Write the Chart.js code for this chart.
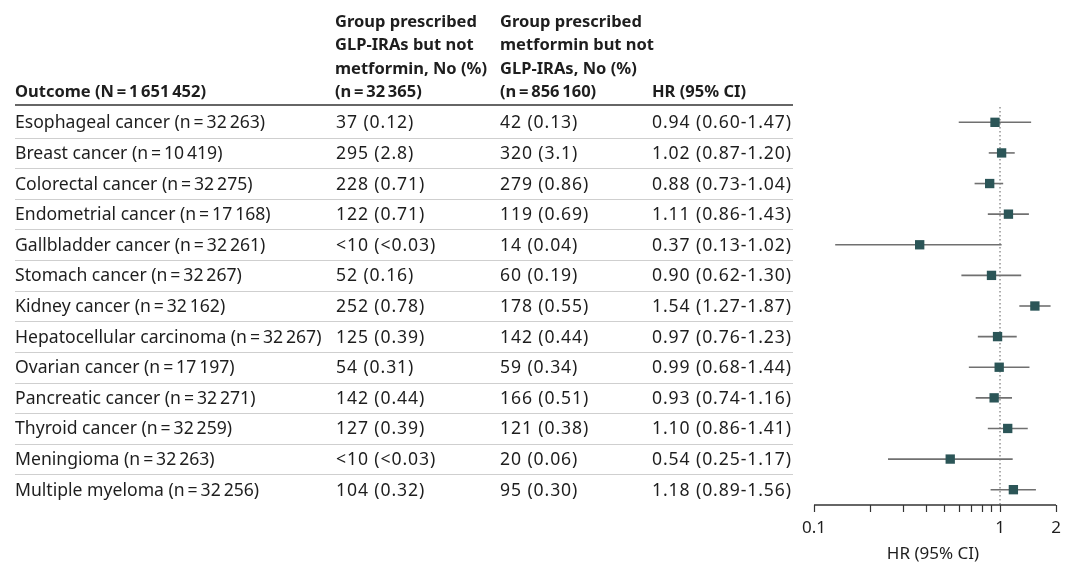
<!DOCTYPE html>
<html><head><meta charset="utf-8">
<script src="https://cdn.jsdelivr.net/npm/chart.js@4"></script>
<style>html,body{margin:0;padding:0;background:#fff}canvas{display:block}</style>
</head><body>
<canvas id="c" width="1080" height="575"></canvas>
<script>
const T = '\u2009';
const outcomes = [
  'Esophageal cancer (n'+T+'='+T+'32'+T+'263)',
  'Breast cancer (n'+T+'='+T+'10'+T+'419)',
  'Colorectal cancer (n'+T+'='+T+'32'+T+'275)',
  'Endometrial cancer (n'+T+'='+T+'17'+T+'168)',
  'Gallbladder cancer (n'+T+'='+T+'32'+T+'261)',
  'Stomach cancer (n'+T+'='+T+'32'+T+'267)',
  'Kidney cancer (n'+T+'='+T+'32'+T+'162)',
  'Hepatocellular carcinoma (n'+T+'='+T+'32'+T+'267)',
  'Ovarian cancer (n'+T+'='+T+'17'+T+'197)',
  'Pancreatic cancer (n'+T+'='+T+'32'+T+'271)',
  'Thyroid cancer (n'+T+'='+T+'32'+T+'259)',
  'Meningioma (n'+T+'='+T+'32'+T+'263)',
  'Multiple myeloma (n'+T+'='+T+'32'+T+'256)'
];
const glpCol = ['37 (0.12)','295 (2.8)','228 (0.71)','122 (0.71)','<10 (<0.03)','52 (0.16)','252 (0.78)','125 (0.39)','54 (0.31)','142 (0.44)','127 (0.39)','<10 (<0.03)','104 (0.32)'];
const metCol = ['42 (0.13)','320 (3.1)','279 (0.86)','119 (0.69)','14 (0.04)','60 (0.19)','178 (0.55)','142 (0.44)','59 (0.34)','166 (0.51)','121 (0.38)','20 (0.06)','95 (0.30)'];
const hr = [0.94,1.02,0.88,1.11,0.37,0.90,1.54,0.97,0.99,0.93,1.10,0.54,1.18];
const lo = [0.60,0.87,0.73,0.86,0.13,0.62,1.27,0.76,0.68,0.74,0.86,0.25,0.89];
const hi = [1.47,1.20,1.04,1.43,1.02,1.30,1.87,1.23,1.44,1.16,1.41,1.17,1.56];
const headOutcome = ['Outcome (N'+T+'='+T+'1'+T+'651'+T+'452)'];
const headGlp = ['Group prescribed','GLP-IRAs but not','metformin, No (%)','(n'+T+'='+T+'32'+T+'365)'];
const headMet = ['Group prescribed','metformin but not','GLP-IRAs, No (%)','(n'+T+'='+T+'856'+T+'160)'];
const headHr = ['HR (95% CI)'];
const xTickLabels = ['0.1','1','2'];
const xTickValues = [0.1,1,2];
const xMinorTicks = [0.2,0.3,0.4,0.5,0.6,0.7,0.8,0.9];
const axisTitle = 'HR (95% CI)';

const FONT = '"Noto Sans", sans-serif';
const TXT = '#1e1e1e';

const tablePlugin = {
  id: 'forest',
  beforeDatasetsDraw(chart) {
    const ctx = chart.ctx, xs = chart.scales.x, ys = chart.scales.y;
    const ca = chart.chartArea;
    ctx.save();
    // row separators
    ctx.strokeStyle = '#cfcfcf';
    ctx.lineWidth = 1;
    for (let i = 0; i < outcomes.length - 1; i++) {
      const y = Math.round(ys.getPixelForValue(i + 0.5)) + 0.5;
      ctx.beginPath(); ctx.moveTo(15, y); ctx.lineTo(793, y); ctx.stroke();
    }
    // header
    ctx.fillStyle = TXT;
    ctx.textBaseline = 'middle';
    ctx.font = 'bold 16.5px ' + FONT;
    const hy = [22,45,69,92];
    ctx.fillText(headOutcome[0], 15, 92);
    headGlp.forEach((t,i)=>ctx.fillText(t, 335, hy[i]));
    headMet.forEach((t,i)=>ctx.fillText(t, 500, hy[i]));
    ctx.fillText(headHr[0], 652, 92);
    // rule
    ctx.strokeStyle = '#333';
    ctx.lineWidth = 1.5;
    ctx.beginPath(); ctx.moveTo(15,105); ctx.lineTo(793,105); ctx.stroke();
    // rows
    outcomes.forEach((t,i)=>{
      const y = ys.getPixelForValue(i) + 1;
      ctx.font = '17.6px ' + FONT;
      ctx.letterSpacing = '0px';
      ctx.fillText(t, 15, y);
      ctx.letterSpacing = '0.9px';
      ctx.font = '17.6px ' + FONT;
      ctx.fillText(glpCol[i], 336, y);
      ctx.fillText(metCol[i], 500, y);
      ctx.fillText(hr[i].toFixed(2)+' ('+lo[i].toFixed(2)+'-'+hi[i].toFixed(2)+')', 652, y);
    });
    ctx.letterSpacing = '0px';
    // reference dotted line
    const x1 = xs.getPixelForValue(1);
    ctx.strokeStyle = '#777';
    ctx.lineWidth = 1.2;
    ctx.setLineDash([1.5,2.5]);
    ctx.beginPath(); ctx.moveTo(x1, ca.top); ctx.lineTo(x1, ca.bottom); ctx.stroke();
    ctx.setLineDash([]);
    // CI lines
    ctx.strokeStyle = '#707070';
    ctx.lineWidth = 1.6;
    hr.forEach((v,i)=>{
      const y = ys.getPixelForValue(i);
      ctx.beginPath();
      ctx.moveTo(xs.getPixelForValue(lo[i]), y);
      ctx.lineTo(xs.getPixelForValue(hi[i]), y);
      ctx.stroke();
    });
    // axis
    const ay = ca.bottom;
    ctx.strokeStyle = '#333';
    ctx.lineWidth = 1.5;
    ctx.beginPath(); ctx.moveTo(xs.getPixelForValue(0.1), ay); ctx.lineTo(xs.getPixelForValue(2), ay); ctx.stroke();
    ctx.lineWidth = 1.2;
    xTickValues.concat(xMinorTicks).forEach(v=>{
      const px = Math.round(xs.getPixelForValue(v)) + 0.5;
      ctx.beginPath(); ctx.moveTo(px, ay); ctx.lineTo(px, ay + 7); ctx.stroke();
    });
    ctx.fillStyle = TXT;
    ctx.font = '17px ' + FONT;
    ctx.textAlign = 'center';
    xTickLabels.forEach((t,i)=>ctx.fillText(t, xs.getPixelForValue(xTickValues[i]), ay + 23));
    ctx.fillText(axisTitle, (xs.getPixelForValue(0.1)+xs.getPixelForValue(2))/2 - 2, ay + 49);
    ctx.restore();
  }
};

new Chart(document.getElementById('c'), {
  type: 'scatter',
  data: {
    datasets: [{
      data: hr.map((v,i)=>({x:v, y:i})),
      pointStyle: 'rect',
      radius: 6.6,
      backgroundColor: '#2b5557',
      borderColor: '#2b5557',
      borderWidth: 0
    }]
  },
  options: {
    responsive: false,
    animation: false,
    devicePixelRatio: 1,
    layout: { padding: { left: 814, right: 24, top: 107, bottom: 70 } },
    plugins: { legend: { display: false }, tooltip: { enabled: false } },
    scales: {
      x: { type: 'logarithmic', min: 0.1, max: 2, display: false },
      y: { type: 'linear', min: -0.5, max: 12.5, reverse: true, display: false }
    }
  },
  plugins: [tablePlugin]
});
</script>
</body></html>
